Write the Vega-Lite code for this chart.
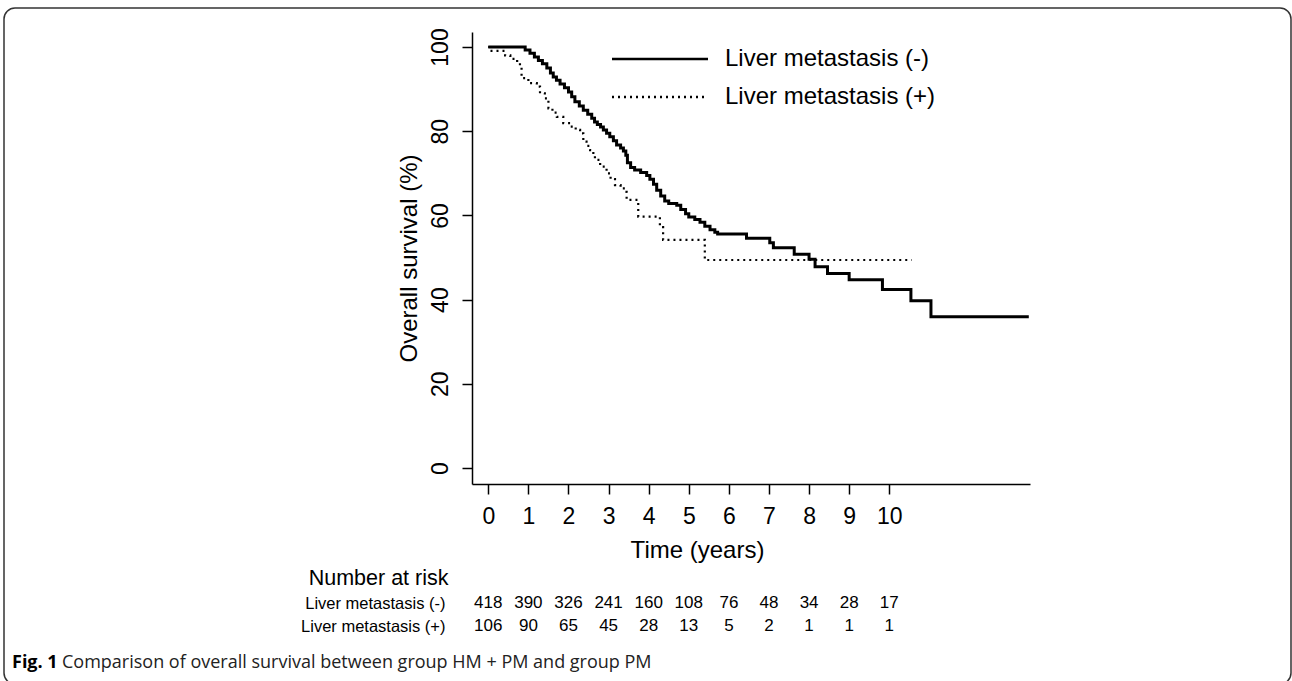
{
  "$schema": "https://vega.github.io/schema/vega-lite/v6.json",
  "usermeta": {"embedOptions": {"actions": false}},
  "width": 1287,
  "height": 676,
  "autosize": {"type": "none"},
  "padding": {"left": 4, "top": 8, "right": 1, "bottom": -3},
  "background": "white",
  "config": {
    "view": {"stroke": "#333333", "strokeWidth": 1.5, "cornerRadius": 11},
    "axis": {"grid": false}
  },
  "datasets": {
    "km": [
      {"group": "Liver metastasis (-)", "time": 0, "survival": 100},
      {"group": "Liver metastasis (-)", "time": 0.92, "survival": 99.3},
      {"group": "Liver metastasis (-)", "time": 1.04, "survival": 98.5},
      {"group": "Liver metastasis (-)", "time": 1.15, "survival": 97.6},
      {"group": "Liver metastasis (-)", "time": 1.25, "survival": 96.8},
      {"group": "Liver metastasis (-)", "time": 1.35, "survival": 96.0},
      {"group": "Liver metastasis (-)", "time": 1.46, "survival": 95.0},
      {"group": "Liver metastasis (-)", "time": 1.55, "survival": 93.8},
      {"group": "Liver metastasis (-)", "time": 1.62, "survival": 92.9},
      {"group": "Liver metastasis (-)", "time": 1.7, "survival": 92.1},
      {"group": "Liver metastasis (-)", "time": 1.79, "survival": 91.2},
      {"group": "Liver metastasis (-)", "time": 1.9, "survival": 90.3},
      {"group": "Liver metastasis (-)", "time": 2.0, "survival": 89.3},
      {"group": "Liver metastasis (-)", "time": 2.08, "survival": 88.2},
      {"group": "Liver metastasis (-)", "time": 2.16, "survival": 87.0},
      {"group": "Liver metastasis (-)", "time": 2.27, "survival": 86.0},
      {"group": "Liver metastasis (-)", "time": 2.37, "survival": 85.0},
      {"group": "Liver metastasis (-)", "time": 2.48, "survival": 84.0},
      {"group": "Liver metastasis (-)", "time": 2.58, "survival": 83.1},
      {"group": "Liver metastasis (-)", "time": 2.65, "survival": 82.2},
      {"group": "Liver metastasis (-)", "time": 2.72, "survival": 81.6},
      {"group": "Liver metastasis (-)", "time": 2.8, "survival": 81.0},
      {"group": "Liver metastasis (-)", "time": 2.87, "survival": 80.3},
      {"group": "Liver metastasis (-)", "time": 2.95, "survival": 79.5},
      {"group": "Liver metastasis (-)", "time": 3.03, "survival": 78.7},
      {"group": "Liver metastasis (-)", "time": 3.12, "survival": 77.7},
      {"group": "Liver metastasis (-)", "time": 3.2, "survival": 76.7},
      {"group": "Liver metastasis (-)", "time": 3.3, "survival": 76.0},
      {"group": "Liver metastasis (-)", "time": 3.37, "survival": 75.3},
      {"group": "Liver metastasis (-)", "time": 3.43, "survival": 74.3},
      {"group": "Liver metastasis (-)", "time": 3.47, "survival": 72.5},
      {"group": "Liver metastasis (-)", "time": 3.55, "survival": 71.4},
      {"group": "Liver metastasis (-)", "time": 3.65, "survival": 70.8},
      {"group": "Liver metastasis (-)", "time": 3.8, "survival": 70.2},
      {"group": "Liver metastasis (-)", "time": 3.95, "survival": 69.5},
      {"group": "Liver metastasis (-)", "time": 4.03, "survival": 68.6},
      {"group": "Liver metastasis (-)", "time": 4.12, "survival": 67.4},
      {"group": "Liver metastasis (-)", "time": 4.2, "survival": 66.0},
      {"group": "Liver metastasis (-)", "time": 4.3, "survival": 64.6},
      {"group": "Liver metastasis (-)", "time": 4.4, "survival": 63.4},
      {"group": "Liver metastasis (-)", "time": 4.5, "survival": 62.8},
      {"group": "Liver metastasis (-)", "time": 4.7, "survival": 62.4},
      {"group": "Liver metastasis (-)", "time": 4.8, "survival": 61.4},
      {"group": "Liver metastasis (-)", "time": 4.92, "survival": 60.4},
      {"group": "Liver metastasis (-)", "time": 5.0, "survival": 59.6},
      {"group": "Liver metastasis (-)", "time": 5.15, "survival": 59.0},
      {"group": "Liver metastasis (-)", "time": 5.28, "survival": 58.4},
      {"group": "Liver metastasis (-)", "time": 5.4, "survival": 57.4},
      {"group": "Liver metastasis (-)", "time": 5.53, "survival": 56.6},
      {"group": "Liver metastasis (-)", "time": 5.65, "survival": 56.0},
      {"group": "Liver metastasis (-)", "time": 5.72, "survival": 55.6},
      {"group": "Liver metastasis (-)", "time": 6.44, "survival": 54.6},
      {"group": "Liver metastasis (-)", "time": 7.02, "survival": 53.5},
      {"group": "Liver metastasis (-)", "time": 7.11, "survival": 52.3},
      {"group": "Liver metastasis (-)", "time": 7.63, "survival": 50.8},
      {"group": "Liver metastasis (-)", "time": 8.0, "survival": 49.6},
      {"group": "Liver metastasis (-)", "time": 8.15, "survival": 47.8},
      {"group": "Liver metastasis (-)", "time": 8.46, "survival": 46.2},
      {"group": "Liver metastasis (-)", "time": 9.0, "survival": 44.7},
      {"group": "Liver metastasis (-)", "time": 9.83, "survival": 42.4},
      {"group": "Liver metastasis (-)", "time": 10.54, "survival": 39.7},
      {"group": "Liver metastasis (-)", "time": 11.04, "survival": 35.9},
      {"group": "Liver metastasis (-)", "time": 13.48, "survival": 35.9},
      {"group": "Liver metastasis (+)", "time": 0, "survival": 100},
      {"group": "Liver metastasis (+)", "time": 0.05, "survival": 99.1},
      {"group": "Liver metastasis (+)", "time": 0.42, "survival": 98.0},
      {"group": "Liver metastasis (+)", "time": 0.55, "survival": 97.2},
      {"group": "Liver metastasis (+)", "time": 0.72, "survival": 96.2},
      {"group": "Liver metastasis (+)", "time": 0.79, "survival": 95.3},
      {"group": "Liver metastasis (+)", "time": 0.83, "survival": 92.6},
      {"group": "Liver metastasis (+)", "time": 1.0, "survival": 91.4},
      {"group": "Liver metastasis (+)", "time": 1.21, "survival": 90.6},
      {"group": "Liver metastasis (+)", "time": 1.29, "survival": 89.0},
      {"group": "Liver metastasis (+)", "time": 1.41, "survival": 87.8},
      {"group": "Liver metastasis (+)", "time": 1.5, "survival": 85.4},
      {"group": "Liver metastasis (+)", "time": 1.6, "survival": 84.4},
      {"group": "Liver metastasis (+)", "time": 1.71, "survival": 83.4},
      {"group": "Liver metastasis (+)", "time": 1.87, "survival": 81.9},
      {"group": "Liver metastasis (+)", "time": 2.04, "survival": 81.1},
      {"group": "Liver metastasis (+)", "time": 2.18, "survival": 80.3},
      {"group": "Liver metastasis (+)", "time": 2.29, "survival": 79.5},
      {"group": "Liver metastasis (+)", "time": 2.37, "survival": 77.5},
      {"group": "Liver metastasis (+)", "time": 2.45, "survival": 76.5},
      {"group": "Liver metastasis (+)", "time": 2.54, "survival": 75.5},
      {"group": "Liver metastasis (+)", "time": 2.62, "survival": 74.4},
      {"group": "Liver metastasis (+)", "time": 2.66, "survival": 73.2},
      {"group": "Liver metastasis (+)", "time": 2.79, "survival": 71.6},
      {"group": "Liver metastasis (+)", "time": 2.95, "survival": 70.0},
      {"group": "Liver metastasis (+)", "time": 3.05, "survival": 68.6},
      {"group": "Liver metastasis (+)", "time": 3.16, "survival": 67.2},
      {"group": "Liver metastasis (+)", "time": 3.3, "survival": 66.4},
      {"group": "Liver metastasis (+)", "time": 3.41, "survival": 65.6},
      {"group": "Liver metastasis (+)", "time": 3.45, "survival": 63.7},
      {"group": "Liver metastasis (+)", "time": 3.74, "survival": 59.7},
      {"group": "Liver metastasis (+)", "time": 4.28, "survival": 57.2},
      {"group": "Liver metastasis (+)", "time": 4.36, "survival": 54.2},
      {"group": "Liver metastasis (+)", "time": 5.4, "survival": 49.4},
      {"group": "Liver metastasis (+)", "time": 10.56, "survival": 49.4}
    ],
    "risk": [
      {"group": "Liver metastasis (-)", "time": 0, "n": 418},
      {"group": "Liver metastasis (-)", "time": 1, "n": 390},
      {"group": "Liver metastasis (-)", "time": 2, "n": 326},
      {"group": "Liver metastasis (-)", "time": 3, "n": 241},
      {"group": "Liver metastasis (-)", "time": 4, "n": 160},
      {"group": "Liver metastasis (-)", "time": 5, "n": 108},
      {"group": "Liver metastasis (-)", "time": 6, "n": 76},
      {"group": "Liver metastasis (-)", "time": 7, "n": 48},
      {"group": "Liver metastasis (-)", "time": 8, "n": 34},
      {"group": "Liver metastasis (-)", "time": 9, "n": 28},
      {"group": "Liver metastasis (-)", "time": 10, "n": 17},
      {"group": "Liver metastasis (+)", "time": 0, "n": 106},
      {"group": "Liver metastasis (+)", "time": 1, "n": 90},
      {"group": "Liver metastasis (+)", "time": 2, "n": 65},
      {"group": "Liver metastasis (+)", "time": 3, "n": 45},
      {"group": "Liver metastasis (+)", "time": 4, "n": 28},
      {"group": "Liver metastasis (+)", "time": 5, "n": 13},
      {"group": "Liver metastasis (+)", "time": 6, "n": 5},
      {"group": "Liver metastasis (+)", "time": 7, "n": 2},
      {"group": "Liver metastasis (+)", "time": 8, "n": 1},
      {"group": "Liver metastasis (+)", "time": 9, "n": 1},
      {"group": "Liver metastasis (+)", "time": 10, "n": 1}
    ],
    "caption": [
      {"part": 0, "label": "Fig. 1"},
      {"part": 1, "label": "Comparison of overall survival between group HM + PM and group PM"}
    ]
  },
  "layer": [
    {
      "layer": [
        {
          "data": {"name": "km"},
          "transform": [{"filter": "datum.group === 'Liver metastasis (-)'"}],
          "mark": {"type": "line", "interpolate": "step-after", "color": "black", "strokeWidth": 3, "strokeCap": "butt"},
          "encoding": {
            "x": {
              "field": "time", "type": "quantitative",
              "scale": {"domain": [-0.406, 13.51], "range": [468, 1026], "nice": false, "zero": false},
              "axis": {
                "orient": "bottom", "offset": -200,
                "values": [0, 1, 2, 3, 4, 5, 6, 7, 8, 9, 10], "format": "d",
                "domainColor": "black", "domainWidth": 1.5,
                "tickColor": "black", "tickWidth": 1.5, "tickSize": 10,
                "labelFont": "Liberation Sans", "labelFontSize": 23, "labelColor": "black",
                "labelBaseline": "alphabetic", "labelPadding": 29, "labelFlush": false,
                "title": "Time (years)", "titleFont": "Liberation Sans", "titleFontSize": 24,
                "titleFontWeight": "normal", "titleColor": "black",
                "titleX": 693, "titleY": 73, "titleAlign": "center", "titleBaseline": "alphabetic"
              }
            },
            "y": {
              "field": "survival", "type": "quantitative",
              "scale": {"domain": [-3.8, 103.56], "range": [476, 24], "nice": false, "zero": false},
              "axis": {
                "orient": "left", "offset": -468,
                "values": [0, 20, 40, 60, 80, 100], "format": "d",
                "domainColor": "black", "domainWidth": 1.5,
                "tickColor": "black", "tickWidth": 1.5, "tickSize": 10,
                "labelFont": "Liberation Sans", "labelFontSize": 23, "labelColor": "black",
                "labelAngle": 270, "labelAlign": "center", "labelBaseline": "alphabetic", "labelPadding": 15,
                "title": "Overall survival (%)", "titleFont": "Liberation Sans", "titleFontSize": 24,
                "titleFontWeight": "normal", "titleColor": "black",
                "titleAngle": 270, "titleX": -56, "titleY": 250, "titleAlign": "center", "titleBaseline": "alphabetic"
              }
            },
            "strokeDash": {
              "field": "group", "type": "nominal",
              "scale": {"domain": ["Liver metastasis (-)", "Liver metastasis (+)"], "range": [[1, 0], [2, 4]]},
              "legend": {
                "orient": "none", "legendX": 644, "legendY": 39, "title": null,
                "symbolType": "M-8,0H8", "symbolSize": 144, "symbolStrokeColor": "black", "symbolFillColor": "transparent", "symbolStrokeWidth": 2.5,
                "labelFont": "Liberation Sans", "labelFontSize": 24, "labelColor": "black",
                "labelOffset": 53, "rowPadding": 14, "padding": 0, "labelLimit": 0
              }
            }
          }
        },
        {
          "data": {"name": "km"},
          "transform": [{"filter": "datum.group === 'Liver metastasis (+)'"}],
          "mark": {"type": "line", "interpolate": "step-after", "color": "black", "strokeWidth": 2.2, "strokeCap": "butt"},
          "encoding": {
            "x": {"field": "time", "type": "quantitative"},
            "y": {"field": "survival", "type": "quantitative"},
            "strokeDash": {"field": "group", "type": "nominal"}
          }
        }
      ]
    },
    {
      "data": {"name": "risk"},
      "mark": {"type": "text", "font": "Liberation Sans", "fontSize": 17, "color": "black", "baseline": "middle"},
      "encoding": {
        "x": {
          "field": "time", "type": "quantitative",
          "scale": {"domain": [0, 10], "range": [484.3, 885.3], "nice": false, "zero": false},
          "axis": null
        },
        "y": {
          "field": "group", "type": "nominal",
          "scale": {"type": "point", "domain": ["Liver metastasis (-)", "Liver metastasis (+)"], "range": [595, 618], "padding": 0},
          "axis": {
            "orient": "left", "offset": -441, "domain": false, "ticks": false, "tickSize": 0,
            "labelPadding": 0, "labelFont": "Liberation Sans", "labelFontSize": 16.5, "labelColor": "black",
            "labelAlign": "right", "labelBaseline": "middle", "labelLimit": 0,
            "title": "Number at risk", "titleFont": "Liberation Sans", "titleFontSize": 21.5,
            "titleFontWeight": "normal", "titleColor": "black", "titleAngle": 0,
            "titleX": 3, "titleY": 570, "titleAlign": "right", "titleBaseline": "middle"
          }
        },
        "text": {"field": "n", "type": "quantitative"}
      }
    },
    {
      "data": {"name": "caption"},
      "transform": [{"filter": "datum.part === 0"}],
      "mark": {"type": "text", "font": "Open Sans", "fontSize": 18, "fontWeight": "bold", "color": "black", "align": "left", "baseline": "alphabetic"},
      "encoding": {
        "x": {"field": "part", "type": "quantitative", "scale": {"domain": [0, 1], "range": [8, 58], "nice": false, "zero": false}, "axis": null},
        "y": {"datum": 1, "type": "quantitative", "scale": {"domain": [0, 1], "range": [0, 660], "nice": false, "zero": false}, "axis": null},
        "text": {"field": "label"}
      }
    },
    {
      "data": {"name": "caption"},
      "transform": [{"filter": "datum.part === 1"}],
      "mark": {"type": "text", "font": "Open Sans", "fontSize": 18, "color": "#222222", "align": "left", "baseline": "alphabetic"},
      "encoding": {
        "x": {"field": "part", "type": "quantitative", "scale": {"domain": [0, 1], "range": [8, 58], "nice": false, "zero": false}, "axis": null},
        "y": {"datum": 1, "type": "quantitative", "scale": {"domain": [0, 1], "range": [0, 660], "nice": false, "zero": false}, "axis": null},
        "text": {"field": "label"}
      }
    }
  ],
  "resolve": {"scale": {"x": "independent", "y": "independent"}}
}
